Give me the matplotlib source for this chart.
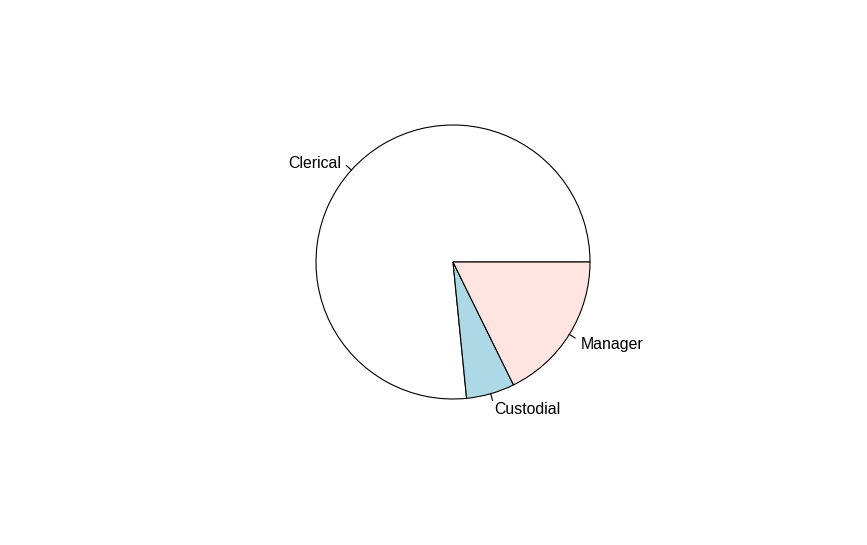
import numpy as np
import matplotlib
matplotlib.use("Agg")
import matplotlib.pyplot as plt

# datos del grafico de torta
categorias = ["Clerical", "Custodial", "Manager"]
valores = [363, 27, 84]
colores = ["white", "lightblue", "mistyrose"]

fig = plt.figure(figsize=(8.67, 5.45), dpi=100)
ax = fig.add_axes([0, 0, 1, 1])

centro = (453, 283)
radio = 137

wedges, textos = ax.pie(valores, labels=categorias, colors=colores,
                        startangle=0, counterclock=True,
                        center=centro, radius=radio, labeldistance=1.1,
                        wedgeprops=dict(edgecolor="black", linewidth=0.8),
                        textprops=dict(fontsize=11.4, family="Liberation Sans"))

# lineas cortas entre la torta y las etiquetas, como en R
for w, t in zip(wedges, textos):
    ang = np.deg2rad((w.theta1 + w.theta2) / 2)
    x0 = centro[0] + radio * np.cos(ang)
    y0 = centro[1] + radio * np.sin(ang)
    x1 = centro[0] + 1.05 * radio * np.cos(ang)
    y1 = centro[1] + 1.05 * radio * np.sin(ang)
    ax.plot([x0, x1], [y0, y1], color="black", linewidth=0.8)
    # alineacion segun el lado del circulo
    t.set_ha("left" if np.cos(ang) >= 0 else "right")
    t.set_va("center")
    tx, ty = t.get_position()
    t.set_position((tx, ty - 3))

ax.set_xlim(0, 867)
ax.set_ylim(0, 545)
ax.set_aspect("equal")
ax.axis("off")

fig.savefig("out.png", dpi=100)
